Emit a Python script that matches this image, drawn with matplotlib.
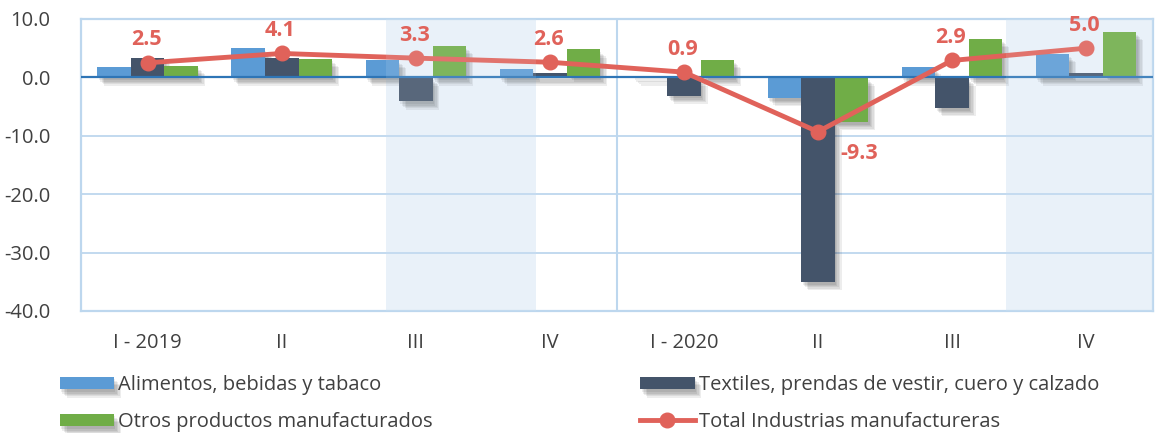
import matplotlib
matplotlib.use("Agg")
import matplotlib.pyplot as plt
import matplotlib.patheffects as pe
import numpy as np

plt.rcParams['font.family'] = ['Open Sans', 'DejaVu Sans']

categories = ["I - 2019", "II", "III", "IV", "I - 2020", "II", "III", "IV"]
alimentos = [1.8, 5.0, 3.0, 1.5, 0.3, -3.5, 1.7, 4.0]
textiles = [3.4, 3.4, -4.1, 0.7, -3.1, -35.0, -5.2, 0.75]
otros = [2.0, 3.2, 5.4, 4.8, 3.0, -7.6, 6.6, 7.8]
total = [2.5, 4.1, 3.3, 2.6, 0.9, -9.3, 2.9, 5.0]
yticks = [10, 0, -10, -20, -30, -40]
shade_spans = [(1.78, 2.90), (6.405, 7.5)]

names = ["Alimentos, bebidas y tabaco",
         "Textiles, prendas de vestir, cuero y calzado",
         "Otros productos manufacturados",
         "Total Industrias manufactureras"]
c_blue, c_dark, c_green, c_red = "#5B9BD5", "#44546A", "#70AD47", "#E0625A"
grid_c = "#BDD7EE"
text_c = "#404040"

fig = plt.figure(figsize=(11.55, 4.33), dpi=100)
ax = fig.add_axes([80.7 / 1155, 1 - 311 / 433, (1153 - 80.7) / 1155, 292 / 433])
x = np.arange(len(categories))
w = 0.25
shadow = [pe.SimplePatchShadow(offset=(o, -o - 1), shadow_rgbFace="black", alpha=0.07)
          for o in (1, 2, 3, 4, 5)] + [pe.Normal()]
b1 = ax.bar(x - w, alimentos, w, color=c_blue, label=names[0], zorder=3, path_effects=shadow)
b2 = ax.bar(x, textiles, w, color=c_dark, label=names[1], zorder=3, path_effects=shadow)
b3 = ax.bar(x + w, otros, w, color=c_green, label=names[2], zorder=3, path_effects=shadow)
ln, = ax.plot(x, total, color=c_red, lw=3.5, marker="o", ms=10.5, label=names[3], zorder=5)

for a, b in shade_spans:
    ax.axvspan(a, b, color="#E9F1F9", zorder=0.5, lw=0)
    ax.axvspan(a, b, color="#E9F1F9", alpha=0.12, zorder=6, lw=0)

for i, v in enumerate(total):
    if v < 0:
        ax.annotate(f"{v:.1f}", (x[i], v), xytext=(16, -8), textcoords="offset points",
                    ha="left", va="top", color=c_red, fontsize=15.5, fontweight="bold", zorder=7)
    else:
        ax.annotate(f"{v:.1f}", (x[i], v), xytext=(-1, 9), textcoords="offset points",
                    ha="center", va="bottom", color=c_red, fontsize=15.5, fontweight="bold", zorder=7)

ax.set_xlim(-0.5, 7.5)
ax.set_ylim(-40, 10)
ax.set_yticks(yticks)
ax.set_yticklabels([f"{t:.1f}" for t in yticks], fontsize=14.5, color=text_c)
ax.set_xticks(x)
ax.set_xticklabels(categories, fontsize=14.5, color=text_c)
ax.tick_params(length=0)
ax.tick_params(axis="x", pad=16)
ax.tick_params(axis="y", pad=22)
ax.grid(axis="y", color=grid_c, lw=1.3, zorder=0.6)
ax.axvline(3.5, color=grid_c, lw=1.5, zorder=1)
ax.axhline(0, color="#2E75B6", lw=1.6, zorder=4)
for s in ax.spines.values():
    s.set_color(grid_c)
    s.set_linewidth(1.6)

fig.legend(handles=[b1, b3, b2, ln], labels=[names[0], names[2], names[1], names[3]],
           ncol=2, loc="lower left",
           bbox_to_anchor=(0.036, -0.04), frameon=False, fontsize=14.5,
           handlelength=2.7, handleheight=0.6, handletextpad=0.2, columnspacing=10.3,
           labelspacing=0.85, labelcolor=text_c)

fig.savefig("out.png", dpi=100)
